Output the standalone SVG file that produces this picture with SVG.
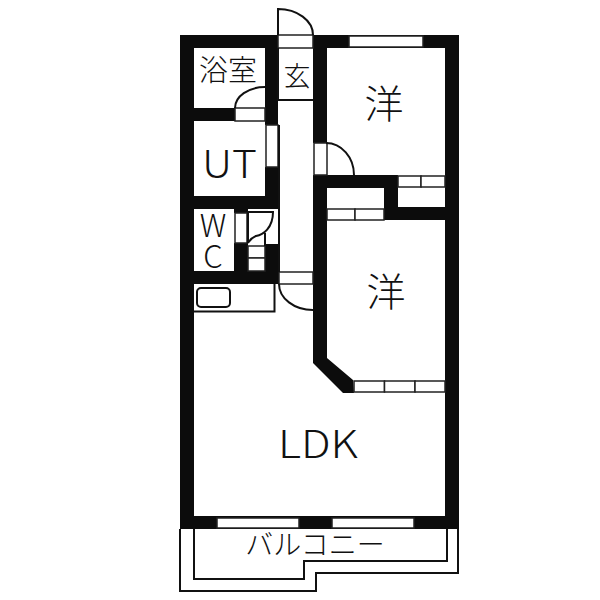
<svg xmlns="http://www.w3.org/2000/svg" width="600" height="600" viewBox="0 0 600 600">
<style>
.w{fill:#0c0c0c}
.o{fill:#fff;stroke:#222;stroke-width:1.5}
.l{fill:none;stroke:#111;stroke-width:2}
.t{font-family:"Noto Sans CJK JP","Noto Sans",sans-serif;font-weight:300;fill:#111;text-anchor:middle}
</style>
<rect width="600" height="600" fill="#fff"/>
<g id="walls">
<rect class="w" x="180" y="35" width="279" height="13"/>
<rect class="w" x="180" y="516" width="279" height="13"/>
<rect class="w" x="180" y="35" width="14" height="494"/>
<rect class="w" x="445" y="35" width="14" height="494"/>
<rect class="w" x="180" y="108" width="55" height="13"/>
<rect class="w" x="265" y="35" width="13" height="90"/>
<rect class="w" x="265" y="167" width="13" height="42"/>
<rect class="w" x="180" y="196" width="98" height="13"/>
<rect class="w" x="180" y="271" width="99" height="13"/>
<rect class="w" x="234" y="209" width="14" height="4"/>
<rect class="w" x="234" y="243" width="14" height="28"/>
<rect class="w" x="265" y="244" width="13" height="27"/>
<rect class="w" x="313" y="35" width="14" height="108"/>
<polygon class="w" points="313,175 327,175 327,358 353,380 354,393 343,393 313,363"/>
<rect class="w" x="313" y="175" width="85" height="13"/>
<rect class="w" x="384" y="175" width="14" height="45"/>
<rect class="w" x="384" y="207" width="61" height="13"/>
</g>
<g id="openings">
<rect class="o" x="278" y="35" width="35" height="13"/>
<rect class="o" x="235" y="108" width="30" height="13"/>
<rect class="o" x="349" y="36" width="74" height="11"/>
<rect class="o" x="266" y="125" width="12" height="42"/>
<rect class="o" x="314" y="143" width="13" height="32"/>
<rect class="o" x="398" y="176" width="23" height="11"/>
<rect class="o" x="421" y="176" width="24" height="11"/>
<rect class="o" x="327" y="209" width="28" height="11"/>
<rect class="o" x="355" y="209" width="29" height="11"/>
<rect class="o" x="235" y="213" width="12" height="30"/>
<rect class="o" x="248" y="246" width="17" height="12"/>
<rect class="o" x="248" y="258" width="17" height="13"/>
<rect class="o" x="279" y="272" width="34" height="12"/>
<rect class="o" x="354" y="381" width="30.500" height="11"/>
<rect class="o" x="384.500" y="381" width="30.500" height="11"/>
<rect class="o" x="415" y="381" width="30" height="11"/>
<rect class="o" x="217" y="518" width="82" height="10"/>
<rect class="o" x="332" y="518" width="82" height="10"/>
</g>
<g id="fixtures">
<path class="l" d="M278 48V100H313M279 125V272M274.500 284V311.500H194M265 233V246"/>
<rect class="l" x="197" y="288" width="33" height="19" rx="4"/>
<path class="l" d="M194 529V579H304V561H447V529M180 529V591H316V573H458V529"/>
<path class="l" d="M278 35V9A35 26 0 0 1 313 35M235 108A30 21 0 0 1 265 87M326 143A28 32 0 0 1 354 175M279 284A34 26 0 0 0 313 310M248 243V212H273C273 228 263 235 256 236C251 238 250 240 248 243"/>
</g>
<g id="labels">
<text class="t" x="228" y="81" font-size="29">浴室</text>
<text class="t" x="297" y="86" font-size="27" lang="ja">玄</text>
<text class="t" x="384" y="118" font-size="39" lang="ja">洋</text>
<text class="t" x="386" y="306" font-size="39" lang="ja">洋</text>
<text class="t" x="229.500" y="178" font-size="39" textLength="55" lengthAdjust="spacingAndGlyphs">UT</text>
<text class="t" font-size="31"><tspan x="213" y="237">W</tspan><tspan x="213" y="268">C</tspan></text>
<text class="t" x="318" y="458" font-size="39" textLength="80" lengthAdjust="spacingAndGlyphs">LDK</text>
<text class="t" x="315" y="555" font-size="28" lang="ja">バルコニー</text>
</g>
</svg>
